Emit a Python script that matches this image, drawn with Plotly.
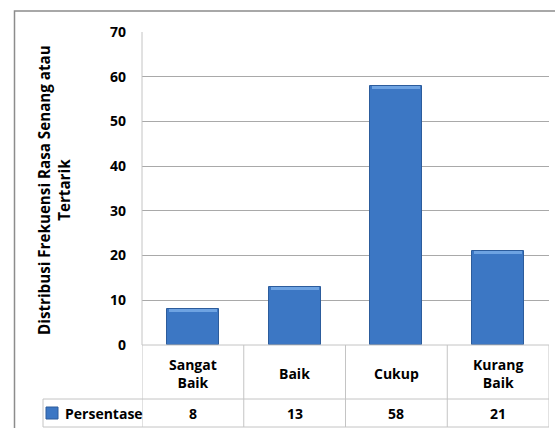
import plotly.graph_objects as go

# Data
categories = ["Sangat<br>Baik", "Baik", "Cukup", "Kurang<br>Baik"]
persentase = [8, 13, 58, 21]
series_name = "Persentase"
y_ticks = [0, 10, 20, 30, 40, 50, 60, 70]
y_title = "Distribusi Frekuensi Rasa Senang atau<br>Tertarik"

W, H = 555, 428
FONT = "Open Sans"
BAR = "#3c77c4"
BAR_EDGE = "#2c5c9c"
BAR_TOP = "#6ea3e2"
GRID = "#a9a9a9"
TABLE = "#c4c4c4"

def px(x):
    return x / W

def py(y):
    return 1 - y / H

plot_left, plot_right = 142, 549
plot_top, plot_bottom = 32, 345
row1_bottom, row2_bottom = 399, 427
table_left = 43
bevel = 0.7  # height of the lighter top face, in axis units

xs = list(range(len(categories)))

fig = go.Figure()
fig.add_trace(go.Bar(
    x=xs, y=persentase, width=0.51,
    marker=dict(color=BAR, line=dict(color=BAR_EDGE, width=1)),
    showlegend=False, hoverinfo="x+y",
))
# light bevel along the top of each column
fig.add_trace(go.Bar(
    x=xs, y=[bevel] * len(persentase), base=[v - bevel for v in persentase], width=0.47,
    marker=dict(color=BAR_TOP, line=dict(width=0)),
    showlegend=False, hoverinfo="skip",
))

shapes = []
# outer chart border (cut by the window on the right and bottom)
shapes.append(dict(type="rect", xref="paper", yref="paper",
                   x0=px(14.5), x1=1.05, y0=-0.05, y1=py(11),
                   line=dict(color="#8c8c8c", width=1.5)))
# plot area left edge
shapes.append(dict(type="line", xref="paper", yref="paper",
                   x0=px(plot_left), x1=px(plot_left), y0=py(plot_bottom), y1=py(plot_top),
                   line=dict(color=TABLE, width=1)))
# data table horizontal rules
for yy in (plot_bottom, row1_bottom, row2_bottom):
    x_start = plot_left if yy == plot_bottom else table_left
    shapes.append(dict(type="line", xref="paper", yref="paper",
                       x0=px(x_start), x1=px(plot_right), y0=py(yy), y1=py(yy),
                       line=dict(color=TABLE, width=1)))
# table left edge of the series-name cell
shapes.append(dict(type="line", xref="paper", yref="paper",
                   x0=px(table_left), x1=px(table_left), y0=py(row2_bottom), y1=py(row1_bottom),
                   line=dict(color=TABLE, width=1)))
# column separators in the table
for i in range(len(categories) + 1):
    shapes.append(dict(type="line", xref="x", yref="paper",
                       x0=i - 0.5, x1=i - 0.5, y0=py(row2_bottom), y1=py(plot_bottom),
                       line=dict(color=TABLE, width=1)))
# legend key square
shapes.append(dict(type="rect", xref="paper", yref="paper",
                   x0=px(46), x1=px(58), y0=py(419), y1=py(407),
                   fillcolor=BAR, line=dict(color=BAR_EDGE, width=1)))

annotations = []
tfont = dict(family=FONT, size=14, color="black", weight="bold")
row1_mid = (plot_bottom + row1_bottom) / 2 + 1
row2_mid = (row1_bottom + row2_bottom) / 2
for i, (c, v) in enumerate(zip(categories, persentase)):
    annotations.append(dict(x=i, y=py(row1_mid), xref="x", yref="paper",
                            xanchor="center", yanchor="middle",
                            text=c, showarrow=False, font=tfont, align="center"))
    annotations.append(dict(x=i, y=py(row2_mid), xref="x", yref="paper",
                            xanchor="center", yanchor="middle",
                            text=str(v), showarrow=False, font=tfont))
annotations.append(dict(x=px(63), y=py(row2_mid), xref="paper", yref="paper",
                        xanchor="left", yanchor="middle",
                        text=series_name, showarrow=False, font=tfont))
annotations.append(dict(x=px(54), y=py(190), xref="paper", yref="paper",
                        xanchor="center", yanchor="middle",
                        text=y_title, textangle=-90, showarrow=False, align="center",
                        font=dict(family=FONT, size=15.2, color="black", weight="bold")))

fig.update_layout(
    width=W, height=H, autosize=False,
    margin=dict(l=0, r=0, t=0, b=0, pad=0, autoexpand=False),
    paper_bgcolor="white", plot_bgcolor="white",
    bargap=0, barmode="overlay",
    xaxis=dict(domain=[px(plot_left), px(plot_right)], range=[-0.5, len(categories) - 0.5],
               showticklabels=False, showgrid=False, zeroline=False, showline=False, ticks="",
               automargin=False),
    yaxis=dict(domain=[py(plot_bottom), py(plot_top)], range=[0, 70],
               tickvals=y_ticks, showgrid=True, gridcolor=GRID, gridwidth=1,
               zeroline=False, showline=False, ticks="", ticklabelstandoff=15,
               automargin=False,
               tickfont=dict(family=FONT, size=14, color="black", weight="bold")),
    shapes=shapes,
    annotations=annotations,
)

fig.write_html("out.html")
